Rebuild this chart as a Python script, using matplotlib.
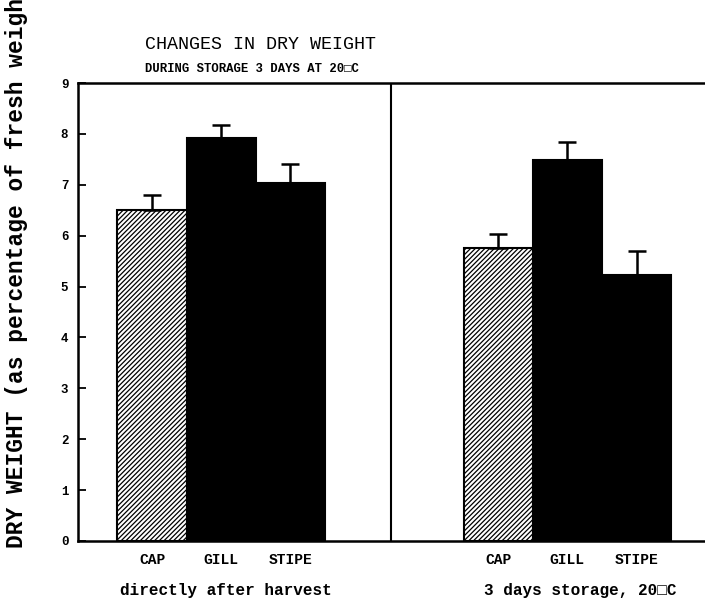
import numpy as np
import matplotlib
matplotlib.use('Agg')
import matplotlib.pyplot as plt

plt.rcParams['font.family'] = ['Liberation Mono', 'DejaVu Sans Mono']
plt.rcParams['hatch.linewidth'] = 0.9

# data
parts = ['CAP', 'GILL', 'STIPE']
groups = ['directly after harvest', '3 days storage, 20\u25a1C']
harvest = [6.5, 7.92, 7.03]
harvest_err = [0.3, 0.25, 0.38]
storage = [5.76, 7.48, 5.23]
storage_err = [0.27, 0.37, 0.47]
yticks = list(range(0, 10))

fig = plt.figure(figsize=(7.05, 6.06), dpi=100)
ax = fig.add_axes([0.1106, 0.1073, 0.8925, 0.7557])

x1 = np.arange(len(parts)) + 1.0
x2 = x1 + 5.0
styles = [dict(facecolor='white', hatch='///////'),
          dict(facecolor='black'),
          dict(facecolor='black')]

for xs, vals, errs in [(x1, harvest, harvest_err), (x2, storage, storage_err)]:
    for xi, v, e, st in zip(xs, vals, errs, styles):
        ax.bar(xi, v, width=1.0, edgecolor='black', linewidth=1.5, **st)
        ax.errorbar(xi, v, yerr=[[0], [e]], fmt='none', ecolor='black',
                    elinewidth=1.8, capsize=6.5, capthick=1.8)

ax.axvline(4.45, color='black', linewidth=1.5)
ax.set_xlim(-0.07, 9.02)
ax.set_ylim(0, 9)
ax.set_yticks(yticks)
ax.set_yticklabels([str(t) for t in yticks], fontweight='bold', fontsize=9)
ax.tick_params(axis='y', direction='in', length=6, width=1.3, pad=7)
ax.set_xticks(list(x1) + list(x2))
ax.set_xticklabels(parts + parts, fontweight='bold', fontsize=10.5)
ax.tick_params(axis='x', length=0, pad=9)
for s in ax.spines.values():
    s.set_linewidth(1.8)

fig.text(0.369, 0.926, 'CHANGES IN DRY WEIGHT', ha='center', va='center', fontsize=13.2)
fig.text(0.357, 0.886, 'DURING STORAGE 3 DAYS AT 20\u25a1C', ha='center', va='center',
         fontsize=8.8, fontweight='bold')
fig.text(0.321, 0.026, groups[0], ha='center', va='center', fontsize=11.5, fontweight='bold')
fig.text(0.823, 0.026, groups[1], ha='center', va='center', fontsize=11.5, fontweight='bold')
fig.text(0.024, 0.096, 'DRY WEIGHT (as percentage of fresh weight)', rotation=90,
         ha='center', va='bottom', fontsize=16.5, fontweight='bold')

fig.savefig('out.png', dpi=100)
